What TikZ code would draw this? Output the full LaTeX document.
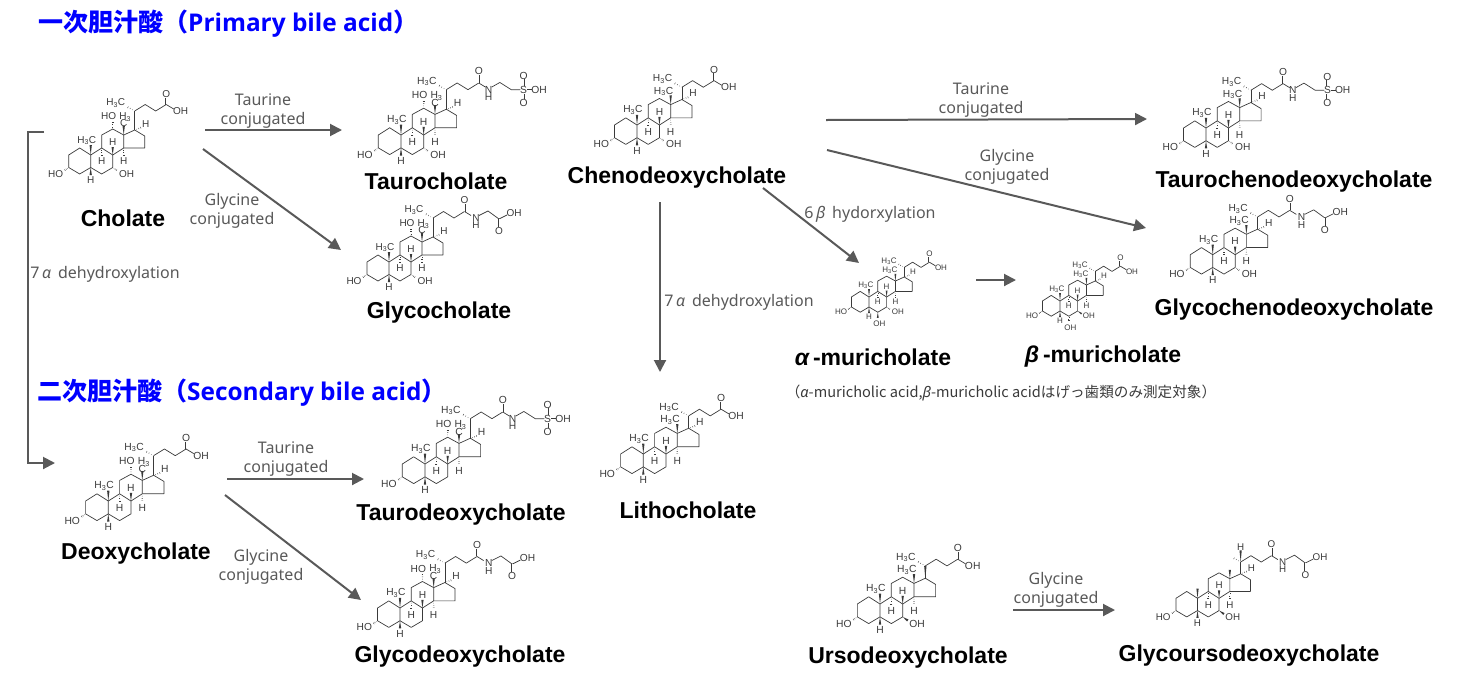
\documentclass[tikz,border=0pt]{standalone}
\usepackage{fontspec}
\setmainfont{Liberation Sans}
\newfontfamily\jpfont{Noto Sans CJK JP}
\newfontfamily\grayfont{Noto Sans}
\newfontfamily\headfont{Open Sans}
\usetikzlibrary{calc}
\usetikzlibrary{arrows.meta}
\definecolor{molcol}{HTML}{3A3A3A}
\definecolor{arrowcol}{HTML}{595959}

% stereo bonds
\newcommand{\wedgebond}[2]{\fill[molcol] (#1) -- ($(#2)!1.15pt!90:(#1)$) -- ($(#2)!1.15pt!-90:(#1)$) -- cycle;}
\newcommand{\hashbond}[2]{\foreach \t/\w in {.25/.3,.5/.6,.75/.9,1/1.2}{
    \draw[molcol,line width=.4pt] ($(#1)!\t!(#2)!\w pt!90:(#2)$) -- ($(#1)!\t!(#2)!\w pt!-90:(#2)$);}}

\tikzset{
  bond/.style={draw=molcol, line width=.7pt, line join=round},
  dbl/.style={draw=molcol, line width=.5pt, double, double distance=1pt},
  atom/.style={inner sep=0pt, text=molcol, font=\fontsize{10}{10}\selectfont},
  sterane/.pic={
    \coordinate (c1) at (-11,-7);
    \coordinate (c2) at (-22,0);
    \coordinate (c3) at (-22,12.5);
    \coordinate (c4) at (-11,19);
    \coordinate (c5) at (0,12.5);
    \coordinate (c6) at (11,19);
    \coordinate (c7) at (22,12.5);
    \coordinate (c8) at (22,0);
    \coordinate (c9) at (11,-7);
    \coordinate (c10) at (0,0);
    \coordinate (c11) at (11,-20);
    \coordinate (c12) at (22,-26);
    \coordinate (c13) at (33,-20);
    \coordinate (c14) at (33,-7);
    \coordinate (c15) at (54,-7);
    \coordinate (c16) at (54,-19);
    \coordinate (c17) at (44,-25);
    \draw[bond] (c10) -- (c1) -- (c2) -- (c3) -- (c4) -- (c5) -- (c10) -- (c9) -- (c8) -- (c7) -- (c6) -- (c5);
    \draw[bond] (c9) -- (c11) -- (c12) -- (c13) -- (c14) -- (c8);
    \draw[bond] (c14) -- (c15) -- (c16) -- (c17) -- (c13);
    \wedgebond{c10}{0,-10}
    \wedgebond{c13}{33,-29}
    \wedgebond{c5}{0,20}
    \wedgebond{c8}{22,-8}
    \hashbond{c9}{11,2}
    \hashbond{c14}{33,2}
    \hashbond{c3}{-27,16}
    \node[atom] (ho3) at (-35,19) {HO};
    \node[atom] (h5) at (0,25) {H};
    \node[atom] (h8) at (22,-13) {H};
    \node[atom] (h9) at (11,6.5) {H};
    \node[atom] (h14) at (33,6.5) {H};
  },
  melab/.pic={
    \node[atom] (me19) at (-4,-14.5) {H\textsubscript{3}C};
    \node[atom] (me18) at (26,-33) {H\textsubscript{3}C};
  },
  melabsplit/.pic={
    \node[atom] (me19) at (-4,-14.5) {H\textsubscript{3}C};
    \node[atom] (me18h) at (34.5,-38) {H\textsubscript{3}};
    \node[atom] (me18c) at (33,-31.5) {C};
  },
  hseventeen/.pic={
    \hashbond{c17}{52,-28}
    \node[atom] (h17) at (55,-31) {H};
  },
  ohtwelve/.pic={
    \hashbond{c12}{22,-35}
    \node[atom] (oh12) at (18,-38.5) {HO};
  },
  ohseven/.pic={
    \hashbond{c7}{27,16}
    \node[atom] (oh7) at (36,19) {OH};
  },
  ohsevenup/.pic={
    \wedgebond{c7}{27,16}
    \node[atom] (oh7) at (36,19) {OH};
  },
  ohsix/.pic={
    \wedgebond{c6}{11,26}
    \node[atom] (oh6) at (13,33) {OH};
  },
  ohsixdown/.pic={
    \hashbond{c6}{11,26}
    \node[atom] (oh6) at (13,33) {OH};
  },
  chain/.pic={
    \draw[bond] (0,0) -- (10.5,-6.5) -- (21,0) -- (31.5,-6.5);
    \hashbond{0,0}{-9,-5}
  },
  methyl/.pic={
    \node[atom] (me21) at (-19,-8) {H\textsubscript{3}C};
  },
  cooh/.pic={
    \draw[dbl] (31.5,-6.5) -- (31.5,-13.5);
    \draw[bond] (31.5,-6.5) -- (39,-2);
    \node[atom] (oa) at (31.5,-17) {O};
    \node[atom] (oh) at (46,0) {OH};
  },
  taurine/.pic={
    \draw[dbl] (31.5,-6.5) -- (31.5,-14);
    \draw[bond] (31.5,-6.5) -- (38,-2.5) (44,-2.5) -- (52,-7) -- (63,0) -- (72,0);
    \draw[dbl] (75,-4) -- (75,-10);
    \draw[dbl] (75,4) -- (75,9);
    \draw[bond] (78.5,0) -- (83,0);
    \node[atom] (oa) at (31.5,-18) {O};
    \node[atom] (nh) at (41,0) {N};
    \node[atom] (hn) at (41,7.5) {H};
    \node[atom] (su) at (75,0) {S};
    \node[atom] (ob) at (75,-13.5) {O};
    \node[atom] (oc) at (75,12.5) {O};
    \node[atom] (oh) at (90,0) {OH};
  },
  glycine/.pic={
    \draw[dbl] (31.5,-6.5) -- (31.5,-14);
    \draw[bond] (31.5,-6.5) -- (38,-2.5) (46,-2.5) -- (55,-7) -- (66,1) -- (74,-3);
    \draw[dbl] (66,1) -- (66,9);
    \node[atom] (oa) at (31.5,-18) {O};
    \node[atom] (nh) at (43,0) {N};
    \node[atom] (hn) at (43,7.5) {H};
    \node[atom] (ob) at (66,13) {O};
    \node[atom] (oh) at (81,-5) {OH};
  }
}

% name, position of C10, size, height of C20, the other pieces
\newcommand{\bileacid}[5]{
  \begin{scope}[shift={(#2)},scale=#3,transform shape,name prefix=#1-]
    \pic {sterane};
    \coordinate (c20) at (44,#4);
    \draw[bond] (c17) -- (c20);
    \pic at (c20) {chain};
    #5
  \end{scope}
}

\begin{document}
\begin{tikzpicture}[x=1pt,y=-1pt,
    molname/.style={inner sep=0pt, text height=17pt, text depth=5pt, text=black, font=\fontsize{23}{25}\selectfont\bfseries},
    heading/.style={inner sep=0pt, anchor=west, text=blue, font=\fontsize{24.4}{26}\selectfont\headfont\bfseries},
    condition/.style={inner sep=0pt, text=arrowcol, align=center, font=\fontsize{16}{19}\selectfont\grayfont},
    conv/.style={draw=arrowcol, line width=2pt, -{Triangle[length=12pt,width=12pt]}}
  ]
  \useasboundingbox (0,0) rectangle (1471,686);

  % primary
  \node[heading] (primary) at (38,24) {{\jpfont\fontsize{25}{26}\selectfont 一次胆汁酸（}Primary bile acid{\jpfont\fontsize{25}{26}\selectfont ）}};

  \bileacid{chol}{90.7,155}{1}{-44}{\pic {melabsplit}; \pic {hseventeen}; \pic {ohtwelve}; \pic {ohseven};
    \pic at (c20) {methyl}; \pic at (c20) {cooh};}
  \node[molname] (cholname) at (123,220) {Cholate};

  \bileacid{tchol}{401,135}{1.03}{-44}{\pic {melabsplit}; \pic {hseventeen}; \pic {ohtwelve}; \pic {ohseven};
    \pic at (c20) {methyl}; \pic at (c20) {taurine};}
  \node[molname] (tcholname) at (436,183) {Taurocholate};

  \bileacid{gchol}{389,262}{1}{-44}{\pic {melabsplit}; \pic {hseventeen}; \pic {ohtwelve}; \pic {ohseven};
    \pic at (c20) {methyl}; \pic at (c20) {glycine};}
  \node[molname] (gcholname) at (439,312) {Glycocholate};

  \bileacid{cheno}{637,125}{1.02}{-37}{\pic {melab}; \pic {hseventeen}; \pic {ohseven};
    \pic at (c20) {methyl}; \pic at (c20) {cooh};}
  \node[molname] (chenoname) at (677,177) {Chenodeoxycholate};

  \bileacid{tcheno}{1206,128}{1.02}{-37}{\pic {melab}; \pic {hseventeen}; \pic {ohseven};
    \pic at (c20) {methyl}; \pic at (c20) {taurine};}
  \node[molname] (tchenoname) at (1294,181) {Taurochenodeoxycholate};

  \bileacid{gcheno}{1212.7,254.7}{1.02}{-37}{\pic {melab}; \pic {hseventeen}; \pic {ohseven};
    \pic at (c20) {methyl}; \pic at (c20) {glycine};}
  \node[molname] (gchenoname) at (1294,309) {Glycochenodeoxycholate};

  \bileacid{amur}{869,297}{.8}{-37}{\pic {melab}; \pic {hseventeen}; \pic {ohseven}; \pic {ohsix};
    \pic at (c20) {methyl}; \pic at (c20) {cooh};}
  \node[molname] (amurname) at (873,359) {{\itshape α}\,-muricholate};

  \bileacid{bmur}{1060,301}{.8}{-37}{\pic {melab}; \pic {hseventeen}; \pic {ohsevenup}; \pic {ohsixdown};
    \pic at (c20) {methyl}; \pic at (c20) {cooh};}
  \node[molname] (bmurname) at (1103,356) {{\itshape β}\,-muricholate};

  \node[inner sep=0pt, text=molcol, font=\fontsize{14.6}{16}\selectfont\jpfont] (murnote) at (1001,393)
    {（{\grayfont\itshape α}-muricholic acid,{\grayfont\itshape β}-muricholic acidはげっ歯類のみ測定対象）};

  % secondary
  \node[heading] (secondary) at (37,393) {{\jpfont\fontsize{25}{26}\selectfont 二次胆汁酸（}Secondary bile acid{\jpfont\fontsize{25}{26}\selectfont ）}};

  \bileacid{deoxy}{108.3,501}{1.03}{-44}{\pic {melabsplit}; \pic {hseventeen}; \pic {ohtwelve};
    \pic at (c20) {methyl}; \pic at (c20) {cooh};}
  \node[molname] (deoxyname) at (136,553) {Deoxycholate};

  \bileacid{tdeoxy}{425,464}{1.03}{-44}{\pic {melabsplit}; \pic {hseventeen}; \pic {ohtwelve};
    \pic at (c20) {methyl}; \pic at (c20) {taurine};}
  \node[molname] (tdeoxyname) at (461,514) {Taurodeoxycholate};

  \bileacid{gdeoxy}{400,608}{1.02}{-44}{\pic {melabsplit}; \pic {hseventeen}; \pic {ohtwelve};
    \pic at (c20) {methyl}; \pic at (c20) {glycine};}
  \node[molname] (gdeoxyname) at (460,656) {Glycodeoxycholate};

  \bileacid{litho}{643.3,454}{1.03}{-37}{\pic {melab}; \pic {hseventeen};
    \pic at (c20) {methyl}; \pic at (c20) {cooh};}
  \node[molname] (lithoname) at (688,512) {Lithocholate};

  \bileacid{urso}{880,604}{1.03}{-37}{\pic {melab}; \pic {ohsevenup}; \wedgebond{c17}{c20}
    \pic at (c20) {methyl}; \pic at (c20) {cooh};}
  \node[molname] (ursoname) at (908,657) {Ursodeoxycholate};

  \bileacid{gurso}{1197.5,598.3}{.98}{-37}{\pic {hseventeen}; \pic {ohsevenup};
    \wedgebond{c20}{44,-49}
    \node[atom] (h20) at (44,-52) {H};
    \pic at (c20) {glycine};}
  \node[molname] (gursoname) at (1249,655) {Glycoursodeoxycholate};

  % conditions
  \node[condition] (ctA) at (263,111) {Taurine\\conjugated};
  \node[condition] (cgA) at (232,211) {Glycine\\conjugated};
  \node[condition] (ctB) at (981,100) {Taurine\\conjugated};
  \node[condition] (cgB) at (1007,166.5) {Glycine\\conjugated};
  \node[condition] (ctC) at (286,459) {Taurine\\conjugated};
  \node[condition] (cgC) at (261,566.5) {Glycine\\conjugated};
  \node[condition] (cgD) at (1056,589.5) {Glycine\\conjugated};
  \node[condition] (dhA) at (105,274) {7\,{\itshape α}\, dehydroxylation};
  \node[condition] (dhB) at (739,302) {7\,{\itshape α}\, dehydroxylation};
  \node[condition] (hyA) at (870,214) {6\,{\itshape β}\, hydorxylation};

  % arrow ends
  \coordinate (a1) at (205,130);   \coordinate (b1) at (342,130);
  \coordinate (a2) at (203,149);   \coordinate (b2) at (341,250);
  \coordinate (a3) at (826,120);   \coordinate (b3) at (1147,119);
  \coordinate (a4) at (827,150);   \coordinate (b4) at (1146,228);
  \coordinate (a5) at (660,202);   \coordinate (b5) at (660,372);
  \coordinate (a6) at (763,188);   \coordinate (b6) at (859,263);
  \coordinate (a7) at (976,280);   \coordinate (b7) at (1016,280);
  \coordinate (a8) at (227,479);   \coordinate (b8) at (364,479);
  \coordinate (a9) at (225,495);   \coordinate (b9) at (361,600);
  \coordinate (a10) at (1013,610); \coordinate (b10) at (1115,610);
  \coordinate (a11) at (44,132);   \coordinate (b11) at (55,463);

  \foreach \n in {1,...,10}{
    \draw[conv] (a\n) -- (b\n);
  }
  \draw[conv] (a11) -- (28,132) -- (28,463) -- (b11);

\end{tikzpicture}
\end{document}
